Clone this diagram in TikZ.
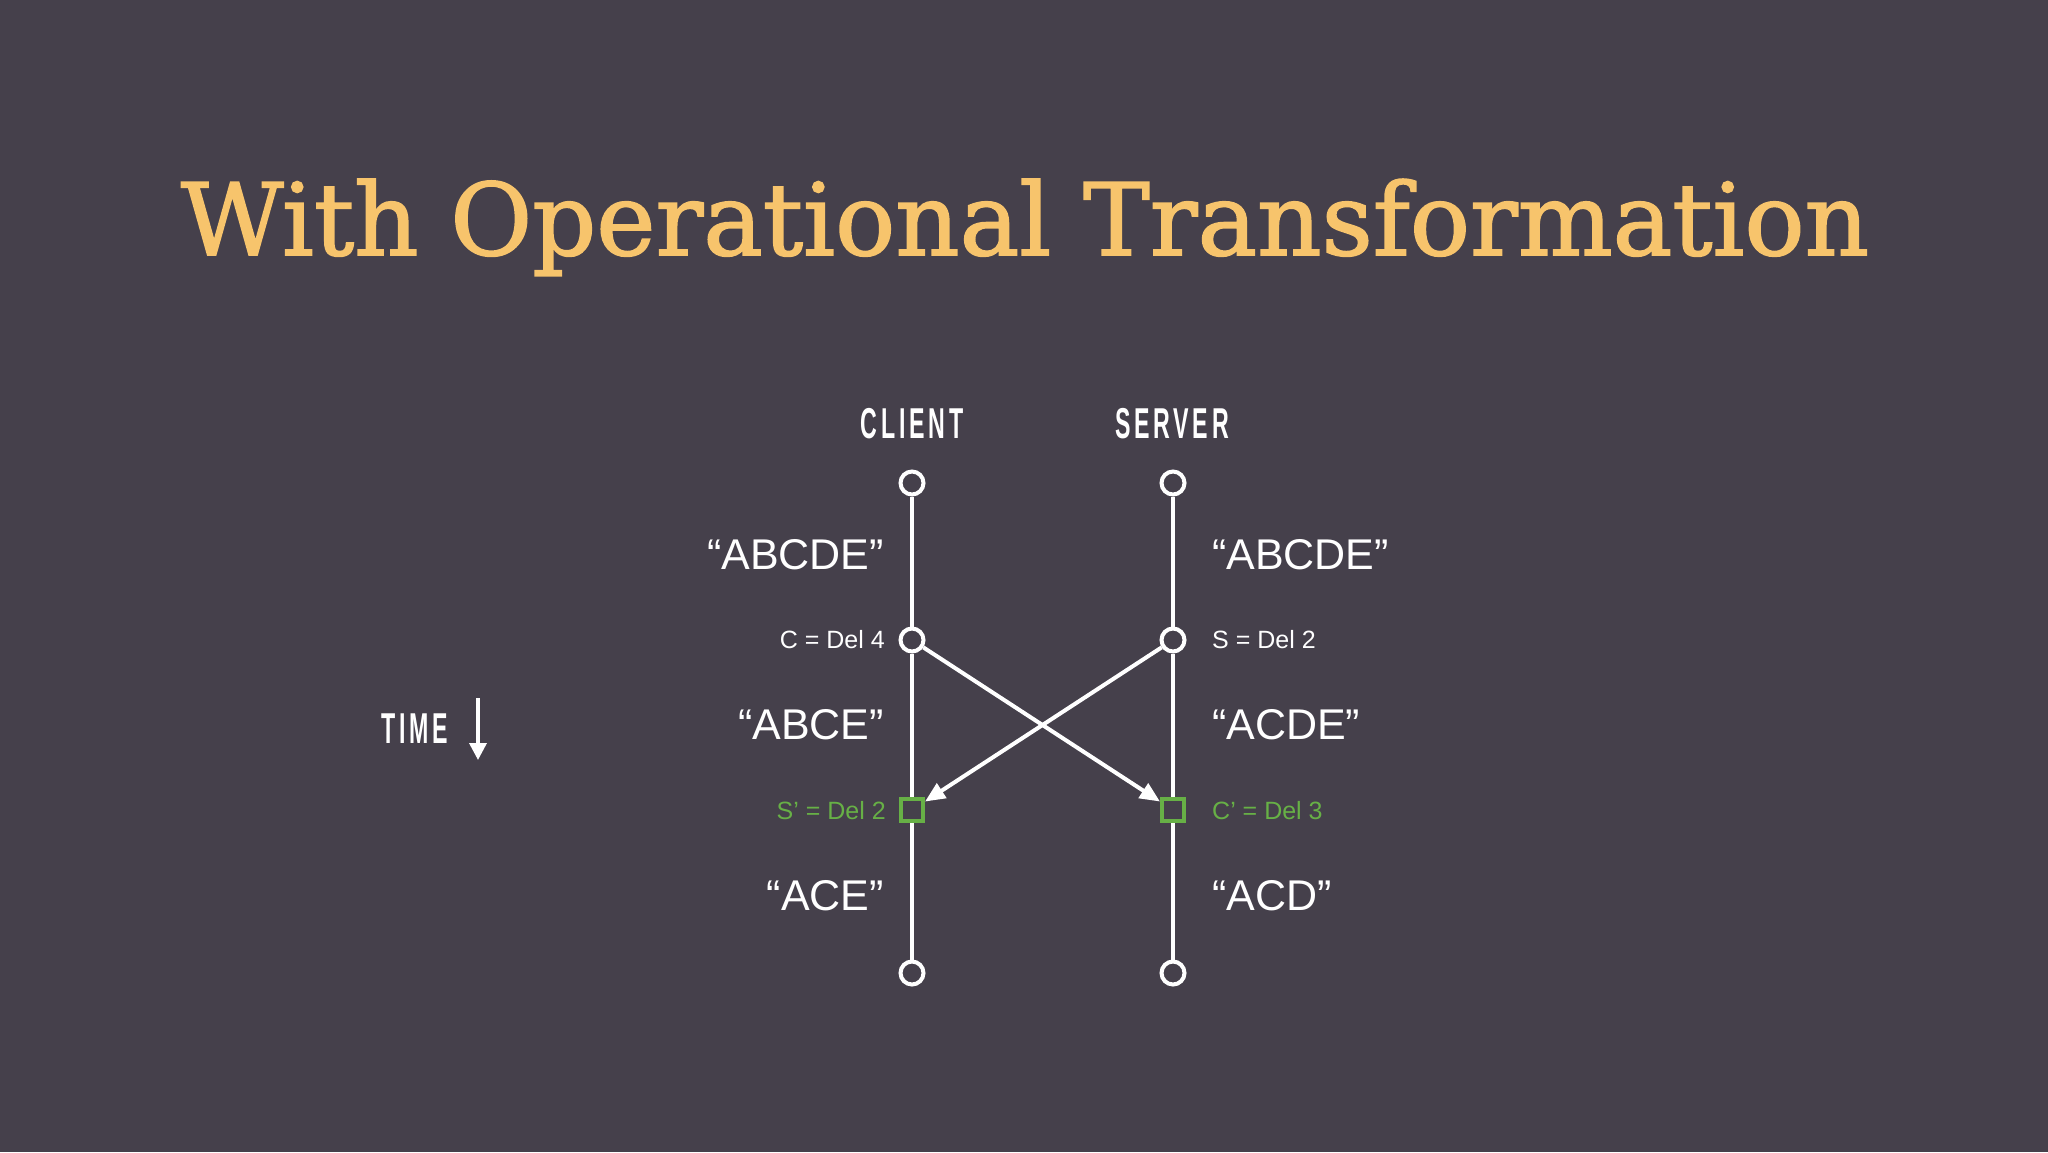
\documentclass[tikz,border=0pt]{standalone}
\usepackage{fontspec}
\setmainfont{Liberation Sans}
\newfontfamily\titlefont[FakeBold=1.6]{DejaVu Serif}
\newfontfamily\capsfont[LetterSpace=16]{Liberation Sans}
\usetikzlibrary{arrows.meta}
\definecolor{bg}{HTML}{45404B}
\definecolor{titleorange}{HTML}{F7C46C}
\definecolor{opgreen}{HTML}{67B046}
\tikzset{
  endpt/.style={circle, draw=white, fill=bg, line width=4pt, minimum size=23pt, inner sep=0pt},
  tbox/.style={rectangle, draw=opgreen, fill=bg, line width=4pt, minimum size=22pt, inner sep=0pt},
  tline/.style={draw=white, line width=4pt},
  msg/.style={draw=white, line width=4pt, -{Triangle[length=20pt, width=17pt]}},
  strlabel/.style={text=white, font=\fontsize{43}{43}\selectfont, inner sep=0pt},
  oplabel/.style={text=white, font=\fontsize{25}{25}\selectfont, inner sep=0pt},
  tlabel/.style={text=opgreen, font=\fontsize{25}{25}\selectfont, inner sep=0pt},
  headlabel/.style={text=white, inner sep=0pt}
}
\newcommand{\condensed}[1]{\scalebox{0.58}[1.08]{\capsfont\bfseries\fontsize{40}{40}\selectfont #1}}
\begin{document}
\begin{tikzpicture}[x=1pt,y=-1pt]
\fill[bg] (0,0) rectangle (2048,1152);
\useasboundingbox (0,0) rectangle (2048,1152);

\node[text=titleorange, font=\titlefont\fontsize{100}{100}\selectfont, anchor=base, inner sep=0pt] (title) at (1025,255) {With Operational Transformation};

\node[headlabel] (client) at (912,424) {\condensed{CLIENT}};
\node[headlabel] (server) at (1172,424) {\condensed{SERVER}};

\node[endpt] (c0) at (912,483) {};
\node[endpt] (c1) at (912,640) {};
\node[tbox]  (c2) at (912,810) {};
\node[endpt] (c3) at (912,973) {};
\node[endpt] (s0) at (1173,483) {};
\node[endpt] (s1) at (1173,640) {};
\node[tbox]  (s2) at (1173,810) {};
\node[endpt] (s3) at (1173,973) {};

\draw[tline] (c0) -- (c1);
\draw[tline] (c1) -- (c2);
\draw[tline] (c2) -- (c3);
\draw[tline] (s0) -- (s1);
\draw[tline] (s1) -- (s2);
\draw[tline] (s2) -- (s3);

\draw[msg] (c1) -- (s2);
\draw[msg] (s1) -- (c2);

\node[strlabel, anchor=east] (cstr0) at (884,555) {“ABCDE”};
\node[strlabel, anchor=east] (cstr1) at (884,725) {“ABCE”};
\node[strlabel, anchor=east] (cstr2) at (884,896) {“ACE”};
\node[strlabel, anchor=west] (sstr0) at (1212,555) {“ABCDE”};
\node[strlabel, anchor=west] (sstr1) at (1212,725) {“ACDE”};
\node[strlabel, anchor=west] (sstr2) at (1212,896) {“ACD”};

\node[oplabel, anchor=east] (cop) at (885,640) {C = Del 4};
\node[oplabel, anchor=west] (sop) at (1212,640) {S = Del 2};
\node[tlabel, anchor=east] (ctop) at (886,811) {S’ = Del 2};
\node[tlabel, anchor=west] (stop) at (1212,811) {C’ = Del 3};

\node[headlabel] (time) at (415,729) {\condensed{TIME}};
\coordinate (ta) at (478,698);
\coordinate (tb) at (478,760);
\draw[draw=white, line width=3.5pt, -{Triangle[length=17pt, width=17pt]}] (ta) -- (tb);
\end{tikzpicture}
\end{document}
